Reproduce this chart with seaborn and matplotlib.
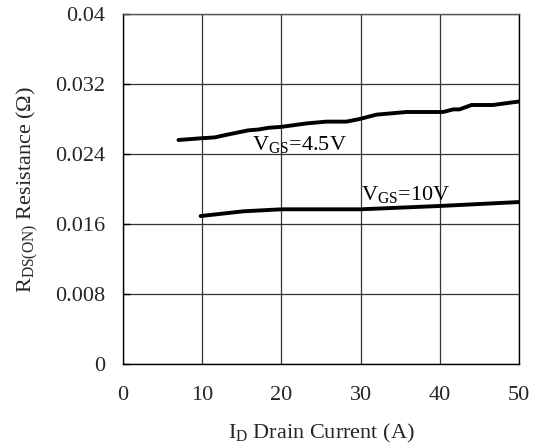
import matplotlib
matplotlib.use("Agg")
import matplotlib.pyplot as plt
import seaborn as sns
import pandas as pd

# Data
id_45 = [7.0, 9.9, 11.6, 13.1, 15.8, 17.1, 18.4, 20.0, 23.2, 25.7, 28.2, 29.9,
         32.0, 33.3, 35.8, 40.4, 41.7, 42.5, 44.0, 46.7, 50.0]
r_45 = [0.0256, 0.0258, 0.0259, 0.0262, 0.0267, 0.0268, 0.0270, 0.0271, 0.0275,
        0.0277, 0.0277, 0.0280, 0.0285, 0.0286, 0.0288, 0.0288, 0.0291, 0.0291,
        0.0296, 0.0296, 0.0300]
id_10 = [9.8, 15.2, 20.0, 30.0, 40.0, 50.0]
r_10 = [0.01691, 0.01745, 0.01768, 0.01768, 0.01806, 0.01851]

x_ticks = [0, 10, 20, 30, 40, 50]
y_ticks = [0, 0.008, 0.016, 0.024, 0.032, 0.04]
y_tick_labels = ["0", "0.008", "0.016", "0.024", "0.032", "0.04"]

sns.set_theme(style="white")
plt.rcParams["font.family"] = ["Liberation Serif", "DejaVu Serif"]
plt.rcParams["mathtext.fontset"] = "custom"
plt.rcParams["mathtext.rm"] = "Liberation Serif"
plt.rcParams["mathtext.it"] = "Liberation Serif:italic"

df45 = pd.DataFrame({"x": id_45, "y": r_45})
df10 = pd.DataFrame({"x": id_10, "y": r_10})

fig = plt.figure(figsize=(5.39, 4.48), dpi=100)
ax = fig.add_axes([123 / 539, 1 - 364 / 448, (519 - 123) / 539, (364 - 14) / 448])

sns.lineplot(data=df45, x="x", y="y", ax=ax, color="black", linewidth=2.8,
             estimator=None, sort=False)
sns.lineplot(data=df10, x="x", y="y", ax=ax, color="black", linewidth=2.8,
             estimator=None, sort=False)

ax.set_xlim(0, 50)
ax.set_ylim(0, 0.04)
ax.set_xticks(x_ticks)
ax.set_yticks(y_ticks)
ax.set_yticklabels(y_tick_labels)
ax.grid(True, color="#333333", linewidth=0.9)
ax.set_axisbelow(True)
for side in ["left", "bottom", "right"]:
    ax.spines[side].set_color("black")
    ax.spines[side].set_linewidth(1.0)
ax.spines["top"].set_color("#555555")
ax.spines["top"].set_linewidth(1.0)

ax.tick_params(axis="y", direction="in", length=5, width=1, color="black",
               pad=13, labelsize=16, left=True)
ax.tick_params(axis="x", direction="in", length=0, pad=16, labelsize=16)

ax.set_xlabel(r"I$_{\mathrm{D}}$ Drain Current (A)", fontsize=16, labelpad=12)
ax.set_ylabel(r"R$_{\mathrm{DS(ON)}}$ Resistance (Ω)", fontsize=16, labelpad=11)

ax.text(16.25, 0.02446, r"V$_{\mathrm{GS}}$=4.5V", fontsize=16,
        ha="left", va="baseline", color="black")
ax.text(30.0, 0.01874, r"V$_{\mathrm{GS}}$=10V", fontsize=16,
        ha="left", va="baseline", color="black")

fig.savefig("out.png", dpi=100)
